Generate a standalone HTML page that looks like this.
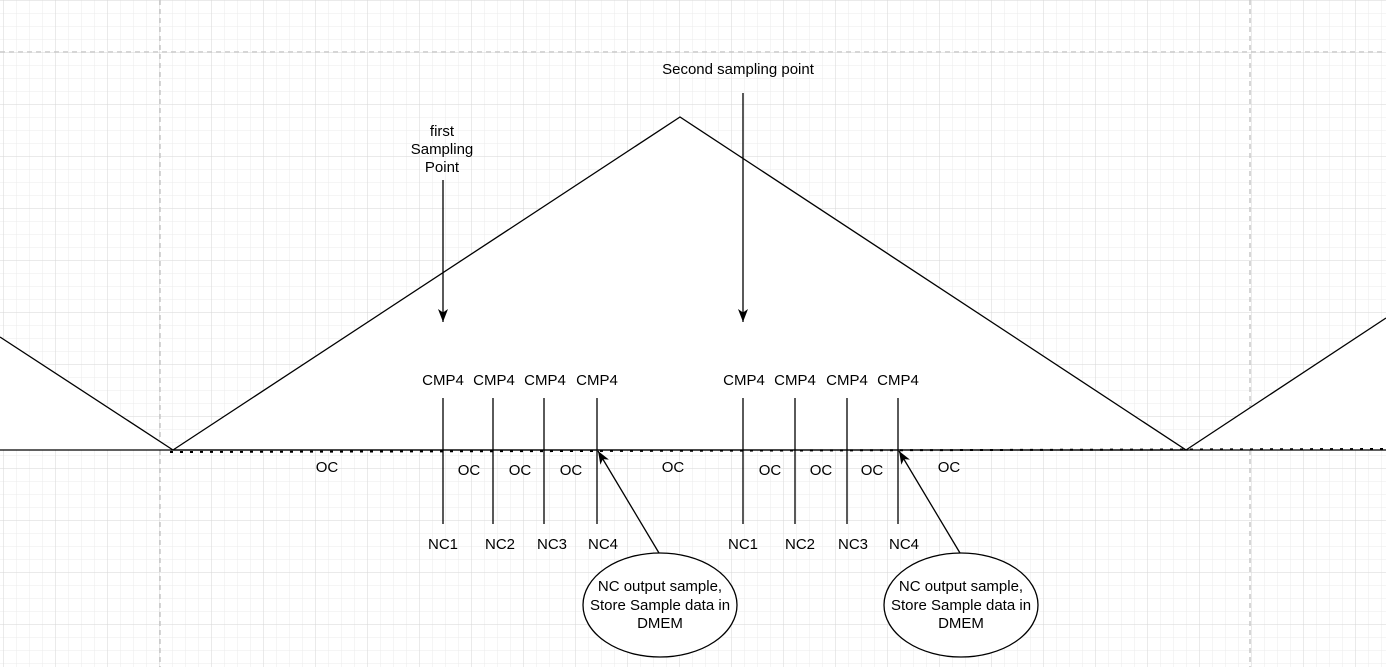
<!DOCTYPE html>
<html><head><style>
html,body{margin:0;padding:0;background:#fff;}
svg{display:block;}
text{font-family:"Liberation Sans",sans-serif;font-size:15px;fill:#000;}
</style></head><body>
<svg width="1386" height="667" viewBox="0 0 1386 667" xmlns="http://www.w3.org/2000/svg">
<defs>
<pattern id="minor" x="3" y="0" width="13" height="13" patternUnits="userSpaceOnUse">
<path d="M0 0H13M0 0V13" stroke="#ebebeb" stroke-width="1" fill="none"/>
</pattern>
<pattern id="major" x="3" y="0" width="52" height="52" patternUnits="userSpaceOnUse">
<path d="M0 0H52M0 0V52" stroke="#d6d6d6" stroke-width="1" fill="none"/>
</pattern>
<marker id="ah" markerWidth="14" markerHeight="12" refX="13" refY="6" orient="auto" markerUnits="userSpaceOnUse">
<path d="M0 1L13 6L0 11L3.5 6Z" fill="#000"/>
</marker>
</defs>
<rect width="1386" height="667" fill="url(#minor)"/>
<rect width="1386" height="667" fill="url(#major)"/>
<g stroke="#c8c8c8" stroke-width="1.5" stroke-dasharray="5,4" fill="none">
<line x1="160" y1="0" x2="160" y2="667"/>
<line x1="1250" y1="0" x2="1250" y2="667"/>
<line x1="0" y1="52" x2="1386" y2="52"/>
</g>
<polygon points="173,450 680,117 1186,450" fill="#fff" stroke="#000" stroke-width="1.3"/>
<polygon points="0,337 173,450 0,450" fill="#fff"/>
<polyline points="0,337 173,450" fill="none" stroke="#000" stroke-width="1.3"/>
<polygon points="1186,450 1386,318 1386,450" fill="#fff"/>
<polyline points="1186,450 1386,318" fill="none" stroke="#000" stroke-width="1.3"/>
<line x1="0" y1="450" x2="1386" y2="450" stroke="#000" stroke-width="1.3"/>
<line x1="170" y1="452" x2="1386" y2="449" stroke="#000" stroke-width="2" stroke-dasharray="3,7"/>
<line x1="443" y1="180" x2="443" y2="322" stroke="#000" stroke-width="1.3" marker-end="url(#ah)"/>
<line x1="743" y1="93" x2="743" y2="322" stroke="#000" stroke-width="1.3" marker-end="url(#ah)"/>
<text x="442" y="136" text-anchor="middle">first</text>
<text x="442" y="154" text-anchor="middle">Sampling</text>
<text x="442" y="172" text-anchor="middle">Point</text>
<text x="738" y="74" text-anchor="middle">Second sampling point</text>
<g stroke="#000" stroke-width="1.3">
<line x1="443" y1="398" x2="443" y2="524"/>
<line x1="493" y1="398" x2="493" y2="524"/>
<line x1="544" y1="398" x2="544" y2="524"/>
<line x1="597" y1="398" x2="597" y2="524"/>
<line x1="743" y1="398" x2="743" y2="524"/>
<line x1="795" y1="398" x2="795" y2="524"/>
<line x1="847" y1="398" x2="847" y2="524"/>
<line x1="898" y1="398" x2="898" y2="524"/>
</g>
<g text-anchor="middle">
<text x="443" y="385">CMP4</text><text x="494" y="385">CMP4</text><text x="545" y="385">CMP4</text><text x="597" y="385">CMP4</text>
<text x="744" y="385">CMP4</text><text x="795" y="385">CMP4</text><text x="847" y="385">CMP4</text><text x="898" y="385">CMP4</text>
<text x="443" y="549">NC1</text><text x="500" y="549">NC2</text><text x="552" y="549">NC3</text><text x="603" y="549">NC4</text>
<text x="743" y="549">NC1</text><text x="800" y="549">NC2</text><text x="853" y="549">NC3</text><text x="904" y="549">NC4</text>
<text x="327" y="472">OC</text><text x="469" y="475">OC</text><text x="520" y="475">OC</text><text x="571" y="475">OC</text>
<text x="673" y="472">OC</text><text x="770" y="475">OC</text><text x="821" y="475">OC</text><text x="872" y="475">OC</text><text x="949" y="472">OC</text>
</g>
<ellipse cx="660" cy="605" rx="77" ry="52" fill="#fff" stroke="#000" stroke-width="1.3"/>
<ellipse cx="961" cy="605" rx="77" ry="52" fill="#fff" stroke="#000" stroke-width="1.3"/>
<line x1="659" y1="553" x2="598" y2="451" stroke="#000" stroke-width="1.3" marker-end="url(#ah)"/>
<line x1="960" y1="553" x2="899" y2="451" stroke="#000" stroke-width="1.3" marker-end="url(#ah)"/>
<g text-anchor="middle">
<text x="660" y="591">NC output sample,</text>
<text x="660" y="610">Store Sample data in</text>
<text x="660" y="628">DMEM</text>
<text x="961" y="591">NC output sample,</text>
<text x="961" y="610">Store Sample data in</text>
<text x="961" y="628">DMEM</text>
</g>
</svg>
</body></html>
